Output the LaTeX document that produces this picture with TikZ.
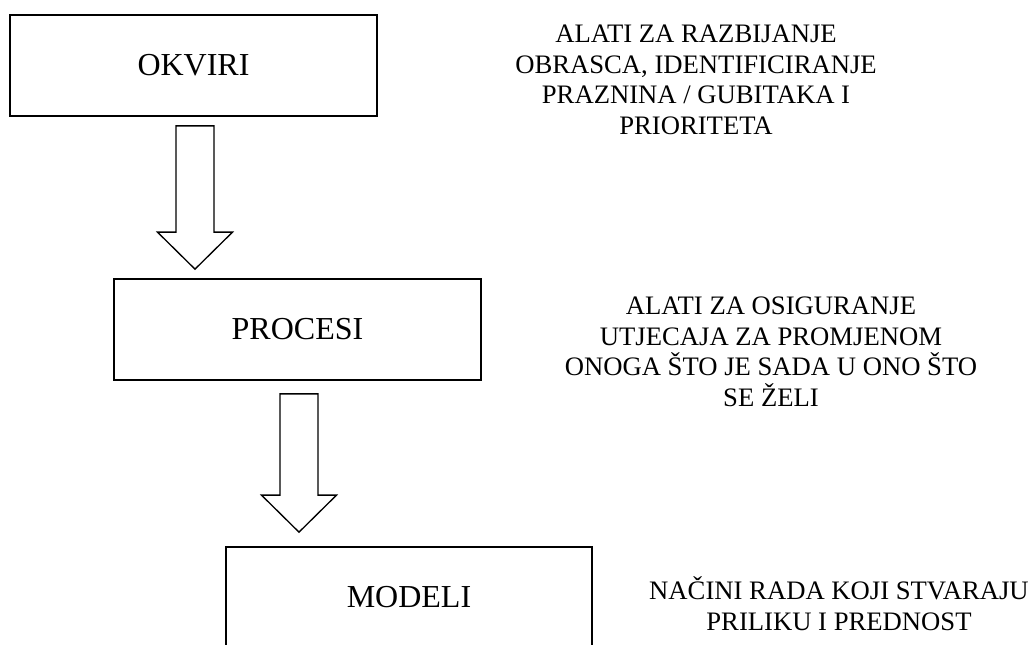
\documentclass[tikz,border=0pt]{standalone}
\usepackage{fontspec}
\setmainfont{Liberation Serif}
\usetikzlibrary{calc,positioning}

\tikzset{
  box/.style={draw, line width=1.3pt, minimum width=275pt, minimum height=75.75pt,
    inner sep=0pt, font=\fontsize{24}{28}\selectfont},
  note/.style={align=center, inner sep=0pt, anchor=south, font=\fontsize{20}{23}\selectfont},
  fatarrow/.style={draw, line width=1pt, line join=miter}
}

\begin{document}
\begin{tikzpicture}[x=0.75pt,y=-0.75pt]
		\useasboundingbox (0,0) rectangle (1036,644);
		\clip (0,0) rectangle (1036,644);
		\node[box] (okv) at (193.5,65.5) {OKVIRI};
		\node[box] (pro) at ($(okv)+(104,264)$) {PROCESI};
		\node[box] (mod) at ($(pro)+(111.5,268)$) {MODELI};
		%
		\node[note] (n1) at (696,135) {ALATI ZA RAZBIJANJE\\OBRASCA, IDENTIFICIRANJE\\PRAZNINA / GUBITAKA I\\PRIORITETA};
		\node[note] (n2) at (771,407) {ALATI ZA OSIGURANJE\\UTJECAJA ZA PROMJENOM\\ONOGA ŠTO JE SADA U ONO ŠTO\\SE ŽELI};
		\node[note] (n3) at (839,631) {NAČINI RADA KOJI STVARAJU\\PRILIKU I PREDNOST};
		%
		\foreach \s/\t/\g/\h in {okv/pro/9/9, pro/mod/13/14} {
		  \coordinate (top) at ($(\s.south)+(1.5,\g)$);
		  \coordinate (tip) at ($(top |- \t.north)+(0,-\h)$);
		  \draw[fatarrow] ($(top)+(-19,0)$) -- ($(top)+(19,0)$) -- ($(tip)+(19,-37)$)
		    -- ($(tip)+(37.5,-37)$) -- (tip) -- ($(tip)+(-37.5,-37)$)
		    -- ($(tip)+(-19,-37)$) -- cycle;
		}
\end{tikzpicture}
\end{document}
